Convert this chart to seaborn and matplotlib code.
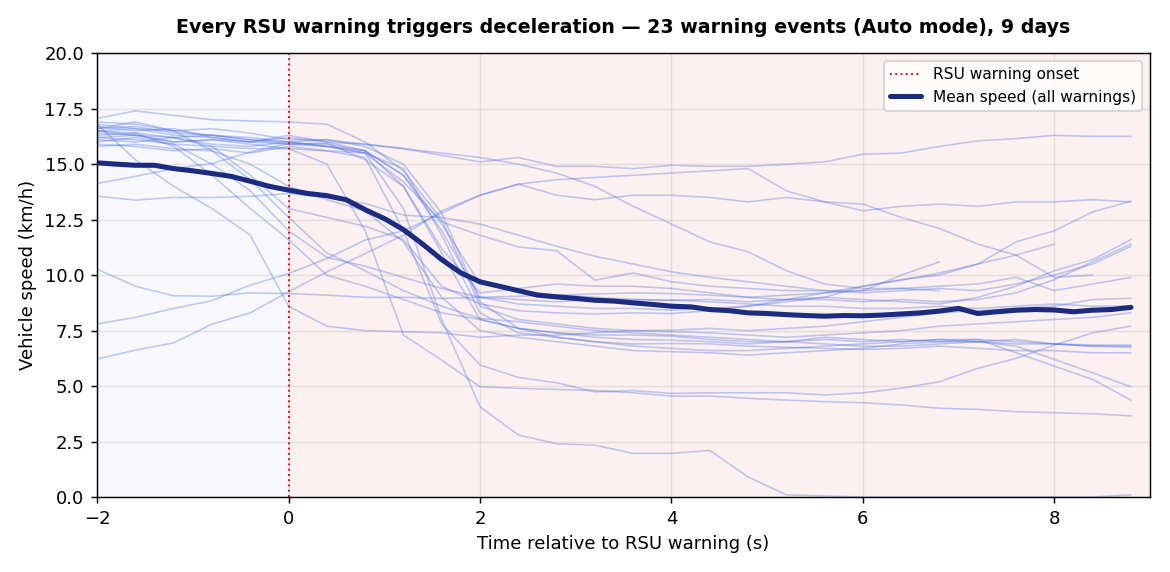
import numpy as np
import pandas as pd
import matplotlib
matplotlib.use("Agg")
import matplotlib.pyplot as plt
import seaborn as sns

sns.set_style("ticks")
plt.rcParams['font.family'] = 'DejaVu Sans'
plt.rcParams['font.size'] = 10
plt.rcParams['text.color'] = 'black'
plt.rcParams['axes.labelcolor'] = 'black'
plt.rcParams['axes.edgecolor'] = 'black'
plt.rcParams['xtick.color'] = 'black'
plt.rcParams['ytick.color'] = 'black'

# time grid of the single warning traces (s, relative to warning)
t_grid = [-2.0, -1.6, -1.2, -0.8, -0.4, 0.0, 0.4, 0.8, 1.2, 1.6, 2.0, 2.4, 2.8, 3.2,
          3.6, 4.0, 4.4, 4.8, 5.2, 5.6, 6.0, 6.4, 6.8, 7.2, 7.6, 8.0, 8.4, 8.8]
nan = np.nan

# speed traces (km/h), one per warning event
ev01 = [16.2, 16.3, 16.0, 16.1, 16.0, 16.2, 16.0, 15.9, 15.7, 15.4, 15.1, 15.3, 14.9, 14.9,
        14.8, 14.95, 14.9, 14.9, 15.0, 15.1, 15.45, 15.5, 15.8, 16.05, 16.15, 16.3, 16.25, 16.25]
ev02 = [7.8, 8.1, 8.5, 8.85, 9.55, 10.07, 10.75, 11.58, 12.0, 12.8, 13.6, 14.1, 14.3, 14.4,
        14.5, 14.6, 14.7, 14.8, 13.8, 13.3, 13.2, 12.6, 12.1, 11.4, 10.9, 9.9, 10.0, nan]
ev03 = [6.22, 6.62, 6.95, 7.79, 8.3, 9.25, 10.15, 10.97, 11.8, 12.9, 13.6, 14.1, 13.6, 13.4,
        13.6, 13.6, 13.5, 13.3, 13.5, 13.3, 12.9, 13.1, 13.2, 13.1, 13.3, 13.3, 13.4, 13.3]
ev04 = [10.27, 9.5, 9.07, 9.05, 9.2, 9.17, 9.1, 9.0, 9.0, 8.95, 9.0, 9.05, 9.1, 9.15,
        9.2, 9.17, 9.1, 9.0, 9.1, 9.2, 9.3, 9.4, 9.5, 9.6, 9.9, 9.3, 9.6, 9.9]
ev05 = [14.13, 14.45, 14.8, 15.03, 15.55, 15.93, 15.9, 15.6, 14.5, 12.3, 9.6, 9.3, 9.1, 9.0,
        8.9, 8.87, 8.9, 8.8, 8.9, 9.0, 8.9, 8.8, 8.7, 9.0, 9.5, 10.2, 10.7, 11.6]
ev06 = [13.56, 13.38, 13.5, 13.5, 13.55, 13.68, 13.5, 13.23, 12.7, 12.6, 12.3, 11.8, 11.3, 10.85,
        10.5, 10.15, 9.9, 9.7, 9.5, 9.3, 9.2, 9.3, 9.4, 9.3, 9.6, 10.0, 10.5, 11.3]
ev07 = [16.9, 16.8, 16.5, 16.6, 16.4, 16.1, 16.1, 15.9, 15.7, 15.5, 15.3, 15.0, 14.6, 14.0,
        13.1, 12.3, 11.5, 11.05, 10.2, 9.6, 9.4, 9.4, 9.3, nan, nan, nan, nan, nan]
ev08 = [16.6, 16.7, 16.4, 16.3, 16.2, 16.0, 15.8, 15.5, 14.2, 12.4, 11.8, 11.27, 11.1, 9.77,
        10.1, 9.7, 9.5, 9.4, 9.3, 9.3, 9.3, 10.0, 10.6, nan, nan, nan, nan, nan]
ev09 = [16.5, 16.6, 16.5, 16.3, 16.1, 15.9, 15.8, 15.6, 14.5, 12.0, 9.0, 8.7, 8.6, 8.5,
        8.5, 8.42, 8.5, 8.6, 8.8, 9.0, 9.5, 9.77, 10.1, 10.5, 10.9, 11.4, nan, nan]
ev10 = [16.3, 16.4, 16.2, 15.8, 14.5, 13.0, 12.6, 12.2, 11.6, 9.5, 8.7, 8.4, 8.3, 8.25,
        8.3, 8.27, 8.4, 8.6, 8.9, 9.2, 9.5, 9.8, 10.0, 10.5, 11.5, 12.0, 12.85, 13.33]
ev11 = [16.7, 16.5, 16.6, 16.2, 16.0, 16.3, 16.0, 15.6, 14.0, 11.2, 9.2, 9.4, 9.6, 9.5,
        9.5, 9.4, 9.2, 9.0, 8.9, 8.9, 8.8, 8.9, 8.8, 8.9, 9.2, 9.8, 10.6, 11.4]
ev12 = [16.8, 15.2, 14.0, 13.0, 11.8, 8.6, 7.7, 7.5, 7.45, 7.4, 7.2, 7.3, 7.3, 7.4,
        7.5, 7.52, 7.6, 7.5, 7.6, 7.7, 7.9, 8.1, 8.3, 8.4, 8.5, 8.6, 8.9, 8.96]
ev13 = [16.5, 16.4, 15.8, 14.5, 13.0, 11.6, 10.0, 9.5, 8.9, 8.3, 8.0, 7.6, 7.4, 7.2,
        7.1, 7.07, 7.0, 6.9, 7.0, 7.1, 7.0, 7.1, 7.0, 7.0, 6.9, 6.9, 6.85, 6.85]
ev14 = [16.0, 16.2, 15.9, 15.0, 13.8, 12.0, 10.8, 10.4, 9.9, 9.4, 9.0, 8.9, 8.8, 8.9,
        8.9, 8.87, 8.8, 8.7, 8.6, 8.6, 8.5, 8.5, 8.6, 8.5, 8.6, 8.7, 8.6, 8.6]
ev15 = [17.06, 17.4, 17.2, 17.0, 16.95, 16.9, 16.8, 16.0, 14.7, 12.5, 8.6, 8.0, 7.8, 7.6,
        7.5, 7.45, 7.4, 7.3, 7.2, 7.3, 7.4, 7.5, 7.7, 7.8, 7.9, 8.0, 8.1, 8.3]
ev16 = [16.1, 16.0, 16.2, 15.9, 15.8, 16.0, 15.8, 15.5, 13.0, 8.0, 4.07, 2.8, 2.4, 2.34,
        1.97, 1.97, 2.1, 0.91, 0.1, 0.05, 0.0, 0.0, 0.0, 0.0, 0.0, 0.0, 0.0, 0.1]
ev17 = [15.9, 15.8, 15.6, 15.7, 15.5, 15.8, 15.6, 15.3, 12.0, 7.8, 5.95, 5.39, 5.15, 4.74,
        4.8, 4.67, 4.7, 4.7, 4.7, 4.6, 4.7, 4.9, 5.2, 5.8, 6.25, 6.85, 7.4, 7.7]
ev18 = [16.4, 16.3, 16.0, 16.1, 15.9, 15.7, 15.0, 12.0, 7.3, 6.17, 4.97, 4.9, 4.85, 4.8,
        4.7, 4.55, 4.55, 4.45, 4.37, 4.3, 4.25, 4.15, 4.0, 3.95, 3.85, 3.8, 3.75, 3.66]
ev19 = [16.8, 16.6, 16.3, 16.2, 16.0, 15.9, 15.95, 15.2, 14.0, 11.0, 8.0, 7.6, 7.4, 7.3,
        7.3, 7.25, 7.1, 7.0, 7.0, 7.2, 7.1, 7.0, 7.1, 7.1, 7.0, 6.9, 6.8, 6.8]
ev20 = [16.2, 16.1, 15.9, 15.8, 15.7, 15.7, 15.6, 15.5, 14.8, 11.8, 8.3, 7.4, 7.2, 7.0,
        6.9, 6.92, 6.9, 6.8, 6.75, 6.7, 6.65, 6.7, 6.8, 6.7, 6.6, 6.6, 6.5, 6.5]
ev21 = [16.5, 16.3, 16.2, 16.3, 16.1, 16.0, 16.1, 15.8, 15.0, 12.8, 8.8, 7.6, 7.2, 7.0,
        6.8, 6.7, 6.6, 6.6, 6.7, 6.8, 6.9, 7.0, 7.1, 7.0, 6.8, 6.2, 5.6, 4.97]
ev22 = [15.8, 15.9, 15.7, 15.6, 15.0, 14.0, 13.4, 12.9, 11.5, 9.0, 7.5, 7.2, 7.0, 6.8,
        6.6, 6.55, 6.5, 6.4, 6.5, 6.6, 6.7, 6.9, 7.0, 7.1, 6.5, 5.9, 5.3, 4.37]
ev23 = [16.6, 16.9, 16.5, 15.6, 14.3, 12.6, 11.0, 10.2, 9.3, 8.6, 8.05, 7.9, 7.7, 7.5,
        7.4, 7.3, 7.2, 7.1, 7.0, 6.9, 6.8, 6.8, 6.9, 7.0, 7.1, 6.9, 6.8, 6.75]

# mean speed over all warnings, 0.2 s steps
t_mean = np.round(np.arange(-2.0, 8.81, 0.2), 1)
mean_speed = [15.06, 15.0, 14.95, 14.95, 14.8, 14.7, 14.58, 14.45, 14.23, 14.0,
              13.83, 13.68, 13.58, 13.4, 12.95, 12.55, 12.05, 11.4, 10.7, 10.1,
              9.7, 9.5, 9.3, 9.1, 9.02, 8.95, 8.87, 8.83, 8.75, 8.68,
              8.6, 8.57, 8.45, 8.4, 8.3, 8.27, 8.22, 8.18, 8.15, 8.18,
              8.17, 8.2, 8.25, 8.3, 8.38, 8.5, 8.27, 8.35, 8.42, 8.45,
              8.43, 8.35, 8.42, 8.45, 8.55]

traces = [ev01, ev02, ev03, ev04, ev05, ev06, ev07, ev08, ev09, ev10, ev11, ev12,
          ev13, ev14, ev15, ev16, ev17, ev18, ev19, ev20, ev21, ev22, ev23]

rows = []
for i, tr in enumerate(traces):
    for t, v in zip(t_grid, tr):
        if not np.isnan(v):
            rows.append((i, t, v))
df = pd.DataFrame(rows, columns=["event", "t", "speed"])

fig, ax = plt.subplots(figsize=(9, 4.4), dpi=130)
fig.subplots_adjust(left=0.083, right=0.983, top=0.907, bottom=0.131)

# pre / post warning shading
ax.axvspan(-2, 0, color="#f8f8fc", zorder=0, lw=0)
ax.axvspan(0, 9, color="#fcf0f0", zorder=0, lw=0)

sns.lineplot(data=df, x="t", y="speed", units="event", estimator=None,
             color="royalblue", alpha=0.33, lw=0.9, ax=ax, legend=False)
ax.axvline(0, color="#cc2222", ls=":", lw=1.1, label="RSU warning onset")
sns.lineplot(x=t_mean, y=mean_speed, color="#1a2b80", lw=2.8, ax=ax,
             label="Mean speed (all warnings)")

ax.set_xlim(-2, 9)
ax.set_ylim(0, 20)
ax.grid(True, color="#b0b0b0", alpha=0.3, lw=0.8)
ax.set_xlabel("Time relative to RSU warning (s)")
ax.set_ylabel("Vehicle speed (km/h)")
ax.set_title("Every RSU warning triggers deceleration \u2014 23 warning events (Auto mode), 9 days",
             fontsize=10.5, fontweight="bold", pad=11)
ax.legend(loc="upper right", fontsize=8.5)

plt.savefig("out.png", dpi=130)
plt.close()
